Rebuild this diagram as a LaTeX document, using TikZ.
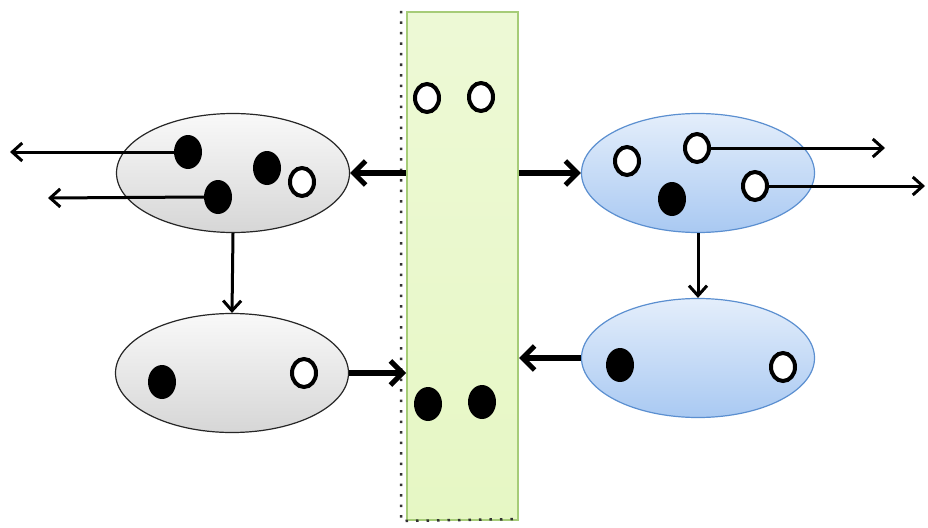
\documentclass[tikz,border=0pt]{standalone}
\usetikzlibrary{shapes.geometric,arrows.meta}
\definecolor{barfill}{HTML}{E6F7C4}
\definecolor{barline}{HTML}{A6CC78}
\definecolor{blueline}{HTML}{5B8FD0}
\definecolor{bluetop}{HTML}{E4EEFB}
\definecolor{bluebot}{HTML}{A9C9F2}
\tikzset{
	cell/.style={ellipse, minimum width=233pt, minimum height=119pt, inner sep=0pt, line width=1.2pt},
	graycell/.style={cell, draw=black!85, top color=gray!5, bottom color=gray!32},
	bluecell/.style={cell, draw=blueline, top color=bluetop, bottom color=bluebot},
	fulldot/.style={ellipse, fill=black, minimum width=28pt, minimum height=34pt, inner sep=0pt},
	opendot/.style={ellipse, draw, fill=white, line width=4pt, minimum width=24pt, minimum height=28pt, inner sep=0pt},
	thin arrow/.style={line width=3pt, -{Straight Barb[length=10pt,width=18pt,line width=3pt]}},
	thick arrow/.style={line width=6.5pt, -{Straight Barb[length=12pt,width=24pt,line width=5pt]}}
}
\begin{document}
\begin{tikzpicture}[x=1pt,y=-1pt]
	\useasboundingbox (0,0) rectangle (928,527);
	% middle bar
	\node [rectangle, draw=barline, line width=2pt, top color=barfill!70, bottom color=barfill, minimum width=111pt, minimum height=508pt, inner sep=0pt] (bar) at (462.5,266) {};
	\draw [black!80, line width=2.5pt, dash pattern=on 2.5pt off 8pt] ([xshift=-5pt]bar.north west) -- ([xshift=-5pt]bar.south west) -- ([yshift=2pt]bar.south east);
	\node [opendot] (b1) at (427,98) {};
	\node [opendot] (b2) at (481,97) {};
	\node [fulldot] (b3) at (428,404) {};
	\node [fulldot] (b4) at (482,402) {};
	% cells
	\node [graycell] (lt) at (233,173) {};
	\node [graycell] (lb) at (232,373) {};
	\node [bluecell] (rt) at (698,173) {};
	\node [bluecell] (rb) at (698,358) {};
	% dots in the left cells
	\node [fulldot] (l1) at (188,152) {};
	\node [fulldot] (l2) at (267,168) {};
	\node [fulldot] (l3) at (218,197) {};
	\node [opendot] (l4) at (302,182) {};
	\node [fulldot] (l5) at (162,382) {};
	\node [opendot] (l6) at (304,373) {};
	% dots in the right cells
	\node [opendot] (r1) at (627,161) {};
	\node [opendot] (r2) at (697,148) {};
	\node [opendot] (r3) at (755,186) {};
	\node [fulldot] (r4) at (672,199) {};
	\node [fulldot] (r5) at (620,365) {};
	\node [opendot] (r6) at (783,367) {};
	% free ends
	\coordinate (e1) at (10,152);
	\coordinate (e2) at (48,198);
	\coordinate (e3) at (885,148);
	\coordinate (e4) at (925,186);
	\draw [thin arrow] (l1.west) -- (e1);
	\draw [thin arrow] (l3.west) -- (e2);
	\draw [thin arrow] (r2.east) -- (e3);
	\draw [thin arrow] (r3.east) -- (e4);
	\draw [thin arrow] (lt.south) -- (lb.north);
	\draw [thin arrow] (rt.south) -- (rb.north);
	% flows to and from the bar
	\draw [thick arrow] (bar.west |- lt.east) -- (lt.east);
	\draw [thick arrow] (bar.east |- rt.west) -- (rt.west);
	\draw [thick arrow] (lb.east) -- (bar.west |- lb.east);
	\draw [thick arrow] (rb.west) -- (bar.east |- rb.west);
\end{tikzpicture}
\end{document}
